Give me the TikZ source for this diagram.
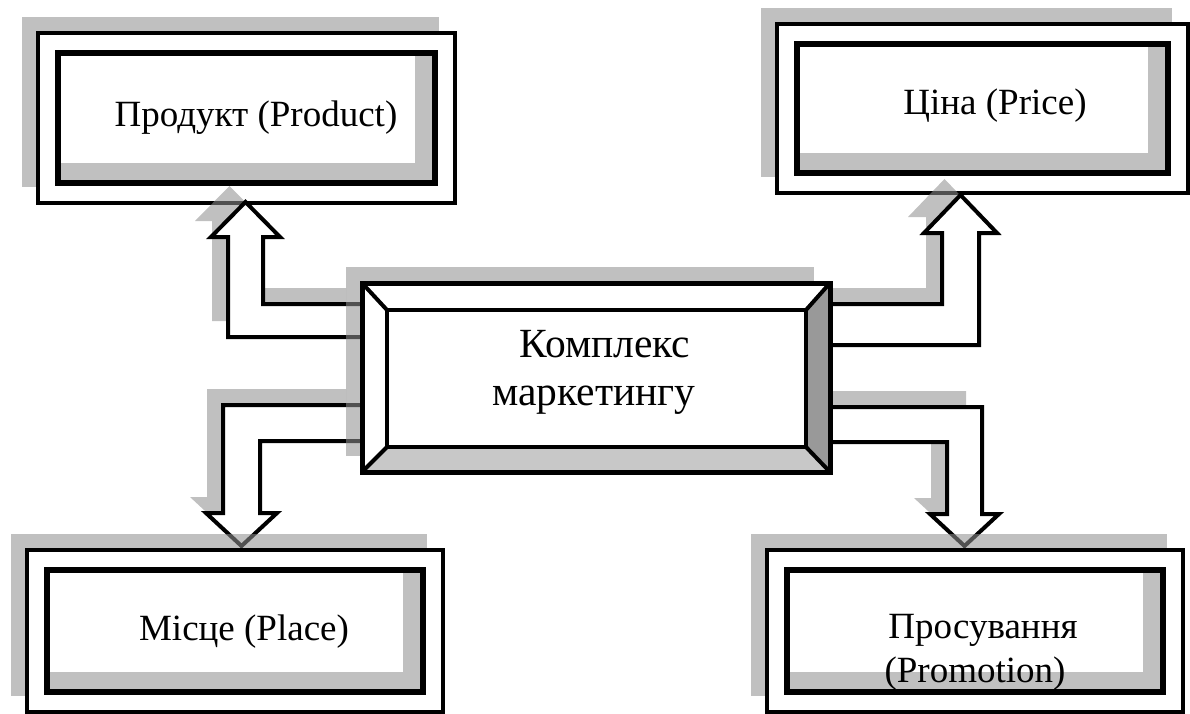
\documentclass[tikz,border=0pt]{standalone}
\usepackage{fontspec}
\setmainfont{Liberation Serif}
\usetikzlibrary{calc,shadows}

\definecolor{shade}{RGB}{143,143,143}
\definecolor{band}{RGB}{192,192,192}
\definecolor{bevelR}{RGB}{153,153,153}
\definecolor{bevelB}{RGB}{200,200,200}

\tikzset{
  softshadow/.style={drop shadow={shadow xshift=-16pt, shadow yshift=16pt,
      fill=shade, opacity=0.56}},
  framebox/.style={rectangle, draw, line width=4.5pt, fill=white,
      outer sep=0pt, inner sep=0pt, softshadow},
  hubbox/.style={rectangle, draw, line width=5pt, fill=white,
      outer sep=0pt, inner sep=0pt, softshadow},
  caption/.style={font=\fontsize{37}{44}\selectfont, inner sep=0pt, anchor=base},
  hubcaption/.style={font=\fontsize{41.5}{48}\selectfont, inner sep=0pt, anchor=base},
  blockarrow/.style={draw, fill=white, line width=4pt, line join=miter, softshadow},
}

% inner frame with a grey band along its right and bottom sides
\newcommand\innerframe[1]{%
  \fill[band] ($(#1.north west)+(20,20)$) rectangle ($(#1.south east)+(-20,-20)$);
  \fill[white] ($(#1.north west)+(20,20)$) rectangle ($(#1.south east)+(-40,-40)$);
  \draw[line width=5.5pt] ($(#1.north west)+(20,20)$) rectangle ($(#1.south east)+(-20,-20)$);
}

\begin{document}
\begin{tikzpicture}[x=1pt, y=-1pt]
\useasboundingbox (0,0) rectangle (1190,714);

% upper boxes
\node[framebox, minimum width=417pt, minimum height=170pt] (prod) at (246.5,118) {};
\innerframe{prod}
\node[framebox, minimum width=411pt, minimum height=169pt] (price) at (982.5,108.5) {};
\innerframe{price}

% central box geometry (drawn last)
\coordinate (mixW) at (362,377.5);
\coordinate (mixE) at (830,377.5);

% block arrows between the centre and the four boxes
\draw[blockarrow] (mixW |- 0,337) -- (228,337) -- (228,237) -- (211,237)
   -- (245.5,202) -- (280,237) -- (263,237) -- (263,304) -- (mixW |- 0,304) -- cycle;
\draw[blockarrow] (mixE |- 0,345) -- (979,345) -- (979,233) -- (997,233)
   -- (960.5,195) -- (924,233) -- (942,233) -- (942,304) -- (mixE |- 0,304) -- cycle;
\draw[blockarrow] (mixW |- 0,405) -- (223,405) -- (223,513) -- (206,513)
   -- (241.5,546) -- (277,513) -- (260,513) -- (260,441) -- (mixW |- 0,441) -- cycle;
\draw[blockarrow] (mixE |- 0,407) -- (982,407) -- (982,514) -- (999,514)
   -- (964.5,546) -- (930,514) -- (947,514) -- (947,442) -- (mixE |- 0,442) -- cycle;

% lower boxes
\node[framebox, minimum width=416pt, minimum height=162pt] (place) at (235,631) {};
\innerframe{place}
\node[framebox, minimum width=416pt, minimum height=162pt] (promo) at (975,631) {};
\innerframe{promo}

% central bevelled box
\node[hubbox, minimum width=468pt, minimum height=189pt] (mix) at (596,377.5) {};
\node[rectangle, inner sep=0pt, outer sep=0pt, minimum width=419pt, minimum height=137pt] (mixin) at (596.5,378.5) {};
\fill[bevelR] (mix.north east) -- (mixin.north east) -- (mixin.south east) -- (mix.south east) -- cycle;
\fill[bevelB] (mix.south west) -- (mixin.south west) -- (mixin.south east) -- (mix.south east) -- cycle;
\draw[line width=4pt] (mix.north west) -- (mixin.north west)
  (mix.north east) -- (mixin.north east)
  (mix.south west) -- (mixin.south west)
  (mix.south east) -- (mixin.south east);
\draw[line width=4pt] (mixin.north west) rectangle (mixin.south east);
\draw[line width=5pt] (mix.north west) rectangle (mix.south east);

% labels
\node[caption] (prodtxt) at (256,127) {Продукт (Product)};
\node[caption] (pricetxt) at (995,115) {Ціна (Price)};
\node[caption] (placetxt) at (244,640) {Місце (Place)};
\node[caption] (promotxt1) at (983,638) {Просування};
\node[caption] (promotxt2) at (975,682) {(Promotion)};
\node[hubcaption] (mixtxt1) at (605,357) {Комплекс};
\node[hubcaption] (mixtxt2) at (594,405) {маркетингу};
\end{tikzpicture}
\end{document}
